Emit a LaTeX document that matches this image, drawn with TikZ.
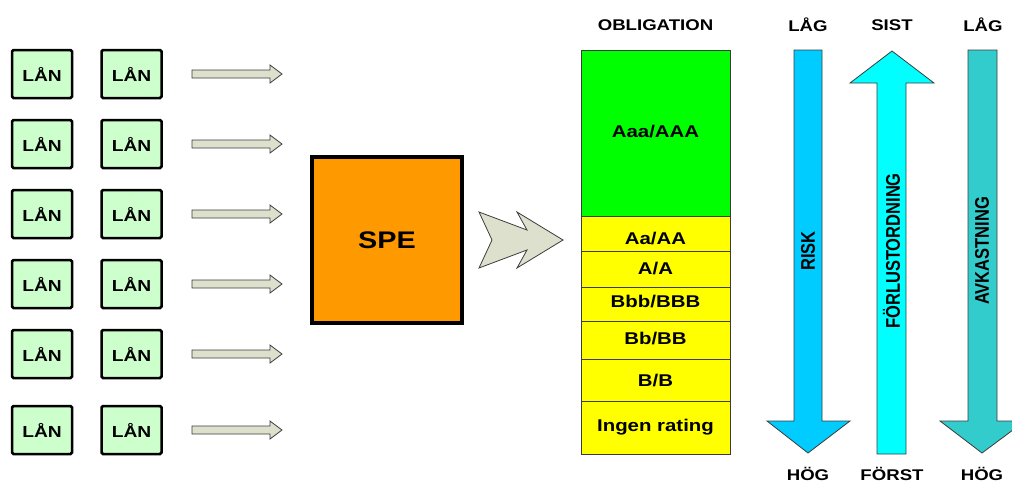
\documentclass[tikz,border=0pt]{standalone}
\usepackage{fontspec}
\setmainfont{Liberation Sans}
\newcommand\wx[1]{\scalebox{1.2}[1]{#1}}
\newcommand\wy[1]{\scalebox{1}[1.2]{#1}}
\definecolor{loanfill}{RGB}{204,255,204}
\definecolor{arrfill}{RGB}{221,224,204}
\definecolor{spefill}{RGB}{255,153,0}
\definecolor{topgreen}{RGB}{0,255,0}
\definecolor{tranche}{RGB}{255,255,0}
\definecolor{riskc}{RGB}{0,204,255}
\definecolor{lossc}{RGB}{0,255,255}
\definecolor{yieldc}{RGB}{51,204,204}
\definecolor{edge}{RGB}{60,60,60}
\tikzset{
  loan/.style={draw=black, line width=2.5pt, rounded corners=1.5pt, fill=loanfill,
    minimum width=60pt, minimum height=48pt, inner sep=0pt, font=\fontsize{16}{16}\selectfont\bfseries},
  smallarrow/.style={draw=edge, line width=0.8pt, fill=arrfill},
  bigarrow/.style={draw=edge, line width=0.8pt},
  seg/.style={draw=edge, line width=0.8pt},
  lab/.style={inner sep=0pt, font=\fontsize{17}{17}\selectfont\bfseries},
  head/.style={inner sep=0pt, font=\fontsize{15.5}{15.5}\selectfont\bfseries},
  vlab/.style={inner sep=0pt, rotate=90, font=\fontsize{16.5}{16.5}\selectfont\bfseries}
}
\begin{document}
\begin{tikzpicture}[x=1pt,y=-1pt]
\useasboundingbox (0,0) rectangle (1012,482);
\clip (0,0) rectangle (1012,482);
% loans and small arrows
\foreach \c [count=\i] in {74,144,214,284,354,430}{
  \node[loan] (la\i) at (42,\c) {\wx{LÅN}};
  \node[loan] (lb\i) at (131.5,\c) {\wx{LÅN}};
  \draw[smallarrow] (192,\c-4) -- (270,\c-4) -- (270,\c-9) -- (282,\c) -- (270,\c+9) -- (270,\c+4) -- (192,\c+4) -- cycle;
}
% SPE
\node[draw=black, line width=4pt, fill=spefill, minimum width=150pt, minimum height=166pt,
  inner sep=0pt, font=\fontsize{24}{24}\selectfont\bfseries] (spe) at (387,240) {\wx{SPE}};
% chevron arrow
\draw[smallarrow] (479,212) -- (527,230) -- (517,212) -- (563,240) -- (517,268) -- (527,250) -- (479,268) -- (492,240) -- cycle;
% obligation column
\filldraw[seg, fill=topgreen] (581,50) rectangle (730,216);
\filldraw[seg, fill=tranche] (581,216) rectangle (730,251);
\filldraw[seg, fill=tranche] (581,251) rectangle (730,287);
\filldraw[seg, fill=tranche] (581,287) rectangle (730,321);
\filldraw[seg, fill=tranche] (581,321) rectangle (730,359);
\filldraw[seg, fill=tranche] (581,359) rectangle (730,401);
\filldraw[seg, fill=tranche] (581,401) rectangle (730,454);
\node[lab] (aaa) at (655.5,132) {\wx{Aaa/AAA}};
\node[lab] (aa) at (655.5,239) {\wx{Aa/AA}};
\node[lab] (a) at (655.5,269) {\wx{A/A}};
\node[lab] (bbb) at (655.5,302) {\wx{Bbb/BBB}};
\node[lab] (bb) at (655.5,339) {\wx{Bb/BB}};
\node[lab] (b) at (655.5,381) {\wx{B/B}};
\node[lab] (ingen) at (655.5,427) {\wx{Ingen rating}};
% headers
\node[head] (hobl) at (655.5,25) {\wx{OBLIGATION}};
\node[head] (hlag1) at (808,25) {\wx{LÅG}};
\node[head] (hsist) at (892,25) {\wx{SIST}};
\node[head] (hlag2) at (983,25) {\wx{LÅG}};
\node[head] (hhog1) at (808,474) {\wx{HÖG}};
\node[head] (hforst) at (892,474) {\wx{FÖRST}};
\node[head] (hhog2) at (982,474) {\wx{HÖG}};
% vertical arrows
\draw[bigarrow, fill=riskc] (794,50) -- (822,50) -- (822,421) -- (850,421) -- (808,453) -- (767,421) -- (794,421) -- cycle;
\draw[bigarrow, fill=lossc] (877,454) -- (877,83) -- (850,83) -- (892,51) -- (934,83) -- (906,83) -- (906,454) -- cycle;
\draw[bigarrow, fill=yieldc] (968,50) -- (997,50) -- (997,421) -- (1025,421) -- (982,453) -- (940,421) -- (968,421) -- cycle;
\node[vlab] (risk) at (808,251) {\wy{RISK}};
\node[vlab] (loss) at (891.5,251) {\wy{FÖRLUSTORDNING}};
\node[vlab] (yield) at (982,251) {\wy{AVKASTNING}};
\end{tikzpicture}
\end{document}
